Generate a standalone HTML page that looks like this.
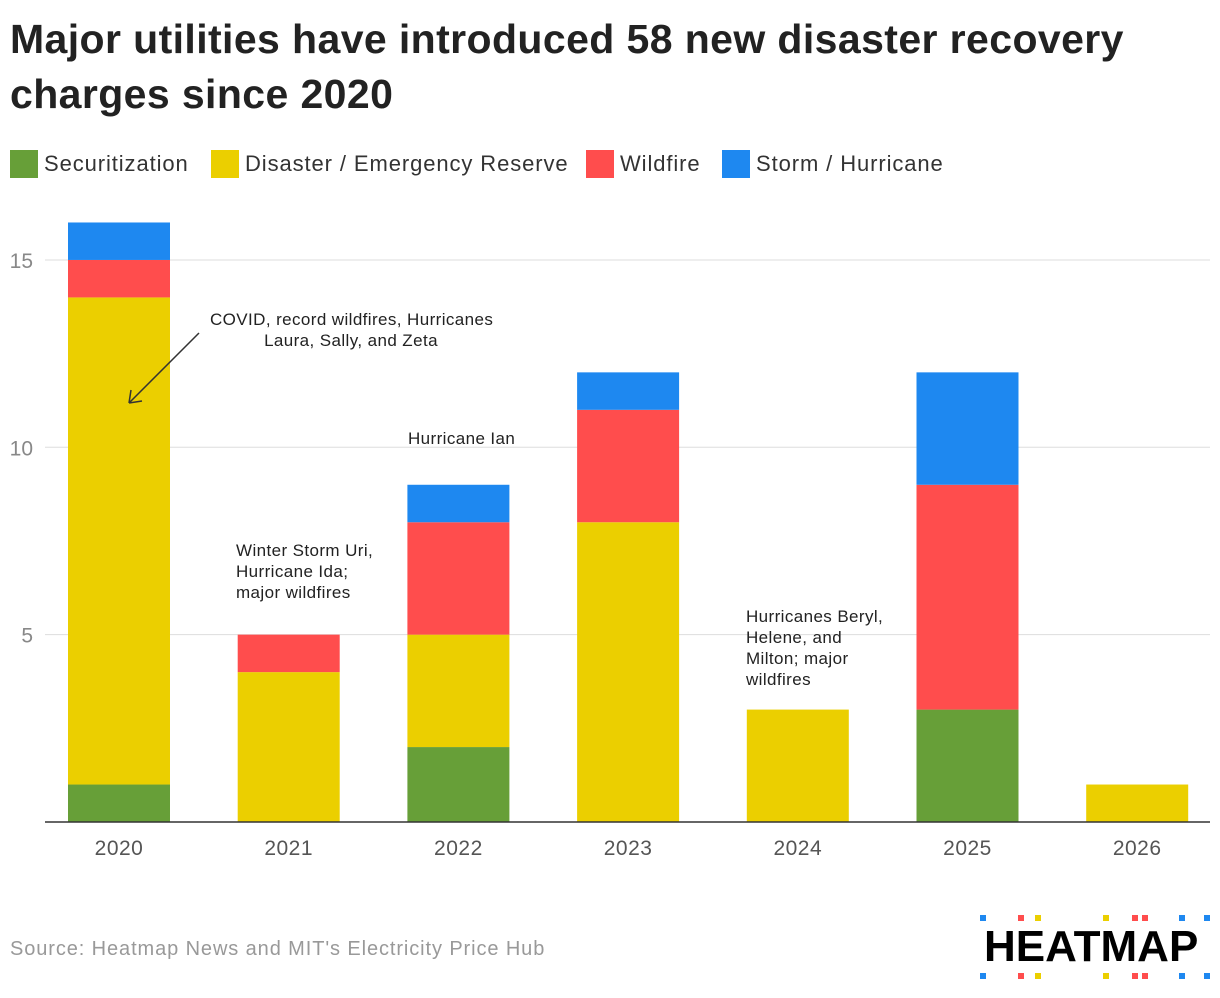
<!DOCTYPE html>
<html><head><meta charset="utf-8"><style>
body{margin:0;width:1220px;height:998px;background:#fff;font-family:"Liberation Sans",sans-serif;position:relative;overflow:hidden}
h1{position:absolute;left:10px;top:12px;margin:0;width:1170px;font-size:41px;line-height:55px;font-weight:bold;color:#222;letter-spacing:0.4px}
.leg{position:absolute;top:150px;font-size:22px;color:#333;display:flex;align-items:center;letter-spacing:0.9px}
.sw{width:28px;height:28px;margin-right:6px}
.src{position:absolute;left:10px;top:938px;font-size:20px;color:#999;letter-spacing:0.9px}
.logo{position:absolute;left:984px;top:922px;font-size:44px;font-weight:bold;color:#000;letter-spacing:0px}
</style></head><body>
<h1>Major utilities have introduced 58 new disaster recovery charges since 2020</h1>
<div class="leg" style="left:10px"><div class="sw" style="background:#679f38"></div>Securitization</div>
<div class="leg" style="left:211px"><div class="sw" style="background:#ebcf00"></div>Disaster / Emergency Reserve</div>
<div class="leg" style="left:586px"><div class="sw" style="background:#ff4d4d"></div>Wildfire</div>
<div class="leg" style="left:722px"><div class="sw" style="background:#1e88f0"></div>Storm / Hurricane</div>
<svg id="chart" width="1220" height="998" style="position:absolute;left:0;top:0"></svg>
<div class="src">Source: Heatmap News and MIT's Electricity Price Hub</div>
<div class="logo">HEATMAP</div>
<svg width="1220" height="998" style="position:absolute;left:0;top:0;pointer-events:none">
<g id="dots"></g></svg>
<script>
const years=["2020","2021","2022","2023","2024","2025","2026"];
const securitization=[1,0,2,0,0,3,0];
const disaster=[13,4,3,8,3,0,1];
const wildfire=[1,1,3,3,0,6,0];
const storm=[1,0,1,1,0,3,0];
const yTicks=[5,10,15];
const colors=["#679f38","#ebcf00","#ff4d4d","#1e88f0"];
const names=["securitization","disaster","wildfire","storm"];
const NS="http://www.w3.org/2000/svg";
const svg=document.getElementById("chart");
const y=v=>822-v*37.47;
const x=i=>68+i*169.7;
const bw=102;
function mk(t,a){const e=document.createElementNS(NS,t);for(const k in a)e.setAttribute(k,a[k]);svg.appendChild(e);return e;}
yTicks.forEach(t=>{
 const l=mk("line",{x1:45,x2:1210,y1:y(t),y2:y(t),stroke:"#ddd","stroke-width":1});
 
 
 const tx=mk("text",{x:33,y:y(t)+8,"text-anchor":"end","font-size":21,fill:"#888","font-family":"Liberation Sans"});
 tx.textContent=t;
 
 
});
const series=[securitization,disaster,wildfire,storm];
years.forEach((yr,i)=>{
 let base=0;
 series.forEach((s,k)=>{
  if(s[i]>0){
   const r=mk("rect",{x:x(i),y:y(base+s[i]),width:bw,height:y(base)-y(base+s[i]),fill:colors[k]});
   
   
  }
  base+=s[i];
 });
 const t=mk("text",{x:x(i)+bw/2,y:855,"text-anchor":"middle","font-size":21,fill:"#555","font-family":"Liberation Sans","letter-spacing":"0.5"});
 t.textContent=yr;
 
 
});
const ax=mk("line",{x1:45,x2:1210,y1:822,y2:822,stroke:"#333","stroke-width":1.5});


const notes=[[210,325,"start",["COVID, record wildfires, Hurricanes"]],[351,346,"middle",["Laura, Sally, and Zeta"]],[408,444,"start",["Hurricane Ian"]],[236,556,"start",["Winter Storm Uri,","Hurricane Ida;","major wildfires"]],[746,622,"start",["Hurricanes Beryl,","Helene, and","Milton; major","wildfires"]]];
notes.forEach(n=>{
 n[3].forEach((line,j)=>{
  const t=mk("text",{x:n[0],y:n[1]+j*21,"text-anchor":n[2],"font-size":17,fill:"#222","font-family":"Liberation Sans","letter-spacing":"0.4"});
  t.textContent=line;
  
  
 });
});
const ar=mk("path",{d:"M199 333 L129 403 M129 403 L131 390 M129 403 L142 401",stroke:"#333","stroke-width":1.5,fill:"none"});


const dots=document.getElementById("dots");
[[983,"#1e88f0"],[1021,"#ff4d4d"],[1038,"#ebcf00"],[1106,"#ebcf00"],[1135,"#ff4d4d"],[1145,"#ff4d4d"],[1182,"#1e88f0"],[1207,"#1e88f0"]].forEach(d=>{
 [915,973].forEach(yy=>{const r=document.createElementNS(NS,"rect");r.setAttribute("x",d[0]-3);r.setAttribute("y",yy);r.setAttribute("width",6);r.setAttribute("height",6);r.setAttribute("fill",d[1]);dots.appendChild(r);});
});
</script>
</body></html>
